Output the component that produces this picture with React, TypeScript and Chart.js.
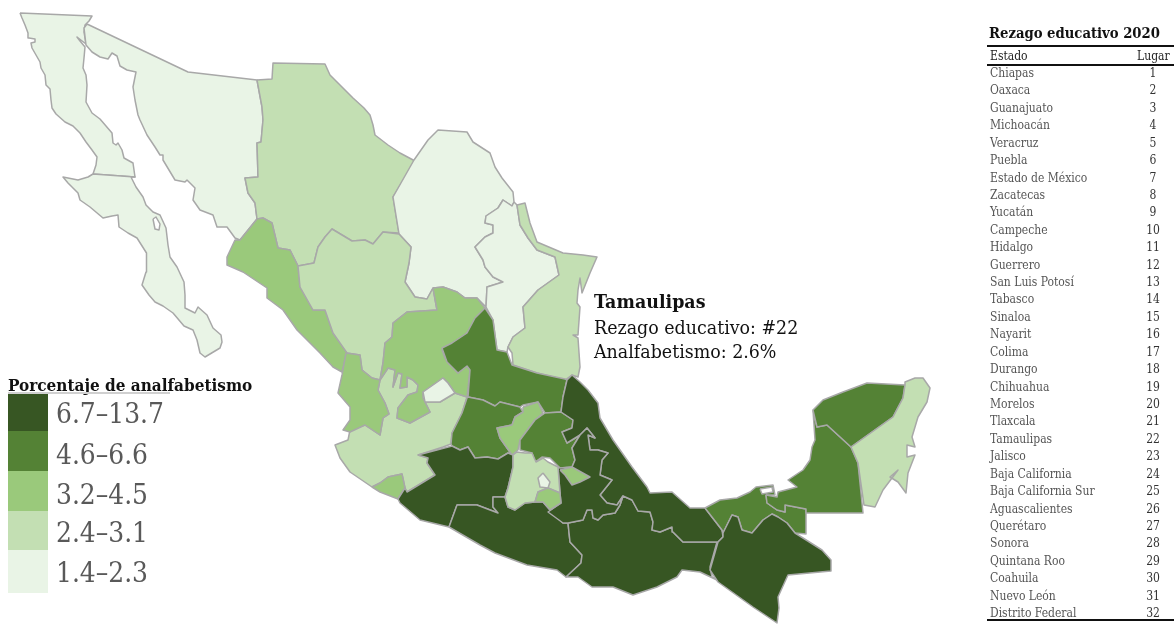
import React, { useEffect, useRef } from "react";
import { Chart, registerables } from "chart.js";

Chart.register(...registerables);

type Pt = [number, number];

// State outlines, in map units
const bajaCalifornia: Pt[] = [[20,13],[92,16],[89,21],[85,25],[84,32],[86,44],[77,37],[80,41],[85,47],[84,58],[83,68],[86,75],[87,85],[86,102],[92,113],[100,119],[112,133],[113,143],[116,145],[118,143],[122,150],[124,158],[133,163],[134,170],[135,177],[93,174],[96,165],[97,157],[92,150],[86,142],[80,133],[73,126],[65,122],[56,114],[52,108],[51,100],[50,89],[46,85],[45,75],[41,68],[40,62],[36,55],[32,48],[31,43],[35,42],[35,39],[29,38],[28,33],[25,25],[22,18]];
const bajaCaliforniaSur: Pt[] = [[93,174],[135,177],[131,177],[136,187],[143,197],[146,205],[153,212],[160,215],[166,228],[168,245],[170,257],[177,267],[184,282],[185,295],[185,308],[195,313],[198,307],[207,315],[213,328],[221,335],[222,342],[220,348],[205,357],[200,353],[197,340],[193,330],[184,326],[173,313],[163,306],[155,302],[149,295],[142,285],[146,272],[147,262],[146,253],[137,238],[128,233],[119,227],[118,215],[112,216],[103,218],[90,207],[80,200],[78,193],[68,183],[63,177],[78,180],[88,177]];
const bcsLagoon: Pt[] = [[153,219],[156,217],[160,224],[159,230],[155,229]];
const sonora: Pt[] = [[87,24],[188,72],[257,80],[262,107],[263,120],[261,142],[257,143],[258,177],[245,178],[248,193],[255,203],[257,219],[240,240],[235,238],[227,227],[217,227],[213,215],[200,210],[193,200],[195,188],[187,180],[185,182],[175,180],[163,160],[163,155],[160,155],[155,147],[147,135],[140,120],[138,115],[135,100],[133,87],[136,72],[127,70],[120,66],[117,56],[112,53],[108,59],[100,57],[92,52],[86,45],[84,28]];
const chihuahua: Pt[] = [[257,80],[272,79],[273,63],[325,64],[330,75],[340,85],[353,98],[364,108],[370,115],[373,125],[375,135],[388,145],[400,153],[415,161],[393,197],[399,233],[383,232],[373,244],[365,240],[352,241],[332,229],[325,237],[318,247],[314,263],[298,266],[290,250],[278,248],[272,223],[263,218],[257,219],[255,203],[248,193],[245,178],[258,177],[257,143],[261,142],[263,120],[262,107]];
const sinaloa: Pt[] = [[257,219],[263,218],[272,223],[278,248],[290,250],[298,266],[300,287],[313,310],[325,310],[333,333],[347,352],[342,372],[333,367],[320,353],[297,330],[283,310],[267,298],[267,288],[243,272],[227,265],[227,257],[235,240],[240,240]];
const coahuila: Pt[] = [[414,160],[428,140],[438,130],[467,132],[473,142],[490,153],[495,167],[502,178],[513,192],[514,202],[512,206],[503,200],[498,208],[486,216],[485,223],[493,225],[493,233],[485,237],[475,247],[483,260],[485,267],[493,277],[503,282],[487,287],[486,307],[477,298],[465,298],[457,292],[443,287],[433,288],[427,299],[415,297],[405,282],[409,263],[411,247],[399,234],[393,197]];
const nuevoLeon: Pt[] = [[514,202],[512,206],[503,200],[498,208],[486,216],[485,223],[493,225],[493,233],[485,237],[475,247],[483,260],[485,267],[493,277],[503,282],[487,287],[486,307],[493,320],[497,350],[507,352],[508,347],[513,337],[525,328],[523,307],[538,290],[559,275],[555,257],[537,250],[528,238],[520,225],[517,205]];
const tamaulipas: Pt[] = [[517,205],[525,203],[530,223],[537,242],[563,253],[583,255],[597,257],[590,273],[582,293],[580,278],[578,290],[577,303],[580,307],[578,335],[573,335],[578,338],[580,367],[578,377],[572,375],[565,380],[537,373],[513,365],[512,353],[508,347],[513,337],[525,328],[523,307],[538,290],[559,275],[555,257],[537,250],[528,238],[520,225]];
const durango: Pt[] = [[298,266],[314,263],[318,247],[325,237],[332,229],[352,241],[365,240],[373,244],[383,232],[399,234],[411,247],[409,263],[405,282],[415,297],[427,299],[433,288],[437,310],[407,312],[393,323],[392,337],[385,343],[383,363],[380,380],[372,378],[362,370],[360,355],[347,353],[333,333],[325,310],[313,310],[300,287]];
const zacatecas: Pt[] = [[433,288],[437,310],[407,312],[393,323],[392,337],[385,343],[383,363],[380,380],[388,368],[395,370],[393,387],[398,373],[402,374],[400,388],[407,387],[407,377],[413,380],[418,385],[417,392],[408,395],[398,408],[397,418],[410,423],[430,412],[423,398],[423,392],[443,378],[448,383],[455,393],[467,397],[470,370],[467,366],[458,373],[445,358],[442,350],[457,342],[470,330],[478,318],[485,308],[477,298],[465,298],[457,292],[443,287]];
const sanLuisPotosi: Pt[] = [[485,308],[493,320],[497,350],[507,352],[512,365],[537,373],[565,379],[567,380],[563,397],[561,412],[545,413],[538,402],[523,405],[520,407],[500,402],[495,406],[483,400],[468,397],[470,370],[467,366],[458,373],[447,362],[442,348],[452,343],[467,333],[475,318]];
const nayarit: Pt[] = [[346,353],[360,355],[362,370],[372,378],[380,380],[378,390],[385,403],[389,414],[383,418],[380,435],[365,425],[350,432],[343,430],[350,420],[350,407],[338,393],[342,375]];
const aguascalientes: Pt[] = [[443,378],[423,392],[425,402],[440,402],[455,393],[448,383]];
const jalisco: Pt[] = [[380,380],[388,368],[395,370],[393,387],[398,373],[402,374],[400,388],[407,387],[407,377],[413,380],[418,385],[417,392],[408,395],[398,408],[397,418],[410,423],[430,412],[423,398],[425,402],[440,402],[455,393],[467,397],[462,413],[452,433],[451,444],[443,447],[418,455],[428,458],[427,463],[435,475],[407,492],[405,488],[402,474],[388,477],[380,483],[372,487],[350,472],[340,458],[335,445],[348,440],[350,430],[365,425],[380,435],[383,418],[389,414],[385,403],[378,390]];
const colima: Pt[] = [[372,487],[380,483],[388,477],[402,474],[405,488],[398,499],[380,492]];
const guanajuato: Pt[] = [[468,397],[483,400],[495,406],[500,402],[520,407],[523,412],[515,417],[512,425],[497,428],[500,438],[512,455],[508,453],[498,459],[487,457],[475,458],[468,447],[460,450],[452,446],[451,444],[452,433],[462,413],[467,398]];
const queretaro: Pt[] = [[523,407],[538,402],[543,413],[535,420],[520,440],[518,450],[512,455],[500,438],[497,428],[512,425],[515,417],[523,412]];
const hidalgo: Pt[] = [[545,413],[561,412],[573,420],[572,428],[562,432],[567,443],[577,437],[580,435],[572,448],[575,460],[572,467],[560,468],[550,458],[542,457],[535,462],[532,453],[520,450],[520,440],[535,420]];
const michoacan: Pt[] = [[418,455],[452,446],[460,450],[468,447],[475,458],[487,457],[498,459],[508,453],[513,455],[513,467],[508,488],[505,497],[493,497],[493,507],[498,513],[477,505],[457,505],[449,527],[420,520],[400,503],[398,499],[405,488],[407,492],[435,475],[427,463],[428,458]];
const estadoDeMexico: Pt[] = [[513,455],[517,452],[525,453],[532,453],[536,462],[543,458],[548,462],[558,467],[560,493],[548,488],[538,492],[535,502],[525,503],[515,510],[508,507],[505,497],[508,488],[513,467]];
const distritoFederal: Pt[] = [[543,473],[550,482],[548,488],[540,487],[538,478]];
const morelos: Pt[] = [[535,502],[538,492],[548,488],[560,493],[561,503],[550,510],[543,502]];
const tlaxcala: Pt[] = [[560,470],[572,467],[590,477],[580,482],[572,485],[565,475]];
const puebla: Pt[] = [[560,468],[572,467],[575,460],[572,448],[580,435],[587,428],[595,438],[588,435],[590,450],[598,450],[608,453],[602,460],[600,475],[612,480],[600,495],[607,503],[617,505],[623,496],[620,505],[615,513],[603,515],[598,520],[593,518],[592,510],[587,510],[583,520],[573,522],[568,523],[563,523],[548,512],[561,503],[560,493],[558,467]];
const veracruz: Pt[] = [[567,380],[572,375],[580,382],[588,390],[598,403],[600,418],[613,440],[632,467],[647,487],[650,493],[672,492],[690,508],[705,508],[722,530],[723,537],[718,542],[683,542],[673,532],[672,527],[660,532],[652,530],[653,522],[650,512],[638,511],[632,500],[623,496],[617,505],[607,503],[600,495],[612,480],[600,475],[602,460],[608,453],[598,450],[590,450],[588,435],[595,438],[587,428],[580,435],[567,443],[562,432],[572,428],[573,420],[561,412],[563,397]];
const guerrero: Pt[] = [[449,527],[457,505],[477,505],[498,513],[493,507],[493,497],[505,497],[508,507],[515,510],[525,503],[535,502],[543,502],[550,510],[563,523],[568,523],[570,542],[582,555],[581,563],[566,577],[557,570],[527,565],[495,553],[480,545]];
const oaxaca: Pt[] = [[568,523],[573,522],[583,520],[587,510],[592,510],[593,518],[598,520],[603,515],[615,513],[620,505],[623,496],[632,500],[638,511],[650,512],[653,522],[652,530],[660,532],[672,527],[673,532],[683,542],[717,542],[710,567],[712,577],[717,580],[700,572],[682,570],[677,577],[657,587],[633,595],[613,587],[592,587],[578,577],[566,577],[581,563],[582,555],[570,542]];
const tabasco: Pt[] = [[705,508],[720,500],[737,498],[750,492],[756,487],[773,485],[775,495],[766,495],[767,503],[777,510],[785,512],[785,505],[806,509],[806,534],[795,533],[787,523],[778,517],[772,514],[763,520],[752,533],[742,530],[738,517],[732,515],[723,533],[722,530]];
const terminosLagoon: Pt[] = [[760,489],[772,487],[773,492],[762,494]];
const chiapas: Pt[] = [[718,542],[723,537],[723,533],[732,515],[738,517],[742,530],[752,533],[763,520],[772,514],[778,517],[787,523],[795,533],[803,538],[822,550],[831,560],[831,571],[788,575],[778,597],[779,608],[777,623],[753,607],[718,582],[710,570]];
const campeche: Pt[] = [[766,495],[777,497],[778,492],[797,487],[788,480],[803,470],[810,460],[812,447],[815,440],[813,410],[817,427],[827,425],[851,447],[858,463],[863,513],[806,513],[806,509],[785,505],[785,512],[777,510],[767,503]];
const yucatan: Pt[] = [[813,410],[823,400],[843,392],[867,383],[905,385],[903,398],[893,417],[851,447],[827,425],[817,427]];
const quintanaRoo: Pt[] = [[905,385],[905,382],[915,378],[923,378],[930,388],[927,402],[918,417],[912,437],[915,447],[907,445],[907,457],[915,455],[908,473],[906,493],[898,482],[890,477],[898,470],[883,490],[875,507],[864,505],[858,463],[851,447],[893,417],[903,398]];

const binLabels = ["6.7–13.7", "4.6–6.6", "3.2–4.5", "2.4–3.1", "1.4–2.3"];
const binColors = ["#375623", "#548235", "#9AC97B", "#C3DFB3", "#E9F4E6"];
const waterColor = "#FFFFFF";

// [outline, fill]; later entries are drawn over earlier ones
const mapStates: [Pt[], string][] = [
  [bajaCalifornia, binColors[4]], [bajaCaliforniaSur, binColors[4]], [bcsLagoon, waterColor], [sonora, binColors[4]],
  [chihuahua, binColors[3]], [sinaloa, binColors[2]], [coahuila, binColors[4]], [nuevoLeon, binColors[4]],
  [tamaulipas, binColors[3]], [durango, binColors[3]], [jalisco, binColors[3]], [zacatecas, binColors[2]],
  [sanLuisPotosi, binColors[1]], [nayarit, binColors[2]], [aguascalientes, binColors[4]], [colima, binColors[2]],
  [guanajuato, binColors[1]], [queretaro, binColors[2]], [hidalgo, binColors[1]], [michoacan, binColors[0]],
  [guerrero, binColors[0]], [oaxaca, binColors[0]], [veracruz, binColors[0]], [puebla, binColors[0]],
  [estadoDeMexico, binColors[3]], [morelos, binColors[2]], [distritoFederal, binColors[4]], [tlaxcala, binColors[2]],
  [tabasco, binColors[1]], [terminosLagoon, waterColor], [chiapas, binColors[0]], [campeche, binColors[1]],
  [yucatan, binColors[1]], [quintanaRoo, binColors[3]],
];

const rankedStates = ["Chiapas","Oaxaca","Guanajuato","Michoacán","Veracruz","Puebla","Estado de México","Zacatecas","Yucatán","Campeche","Hidalgo","Guerrero","San Luis Potosí","Tabasco","Sinaloa","Nayarit","Colima","Durango","Chihuahua","Morelos","Tlaxcala","Tamaulipas","Jalisco","Baja California","Baja California Sur","Aguascalientes","Querétaro","Sonora","Quintana Roo","Coahuila","Nuevo León","Distrito Federal"];

const serif = "'DejaVu Serif Condensed', 'DejaVu Serif', serif";

const polygonFill = {
  id: "polygonFill",
  beforeDatasetDraw(chart: any, args: any) {
    const pts = chart.getDatasetMeta(args.index).data;
    const ctx = chart.ctx;
    ctx.save();
    ctx.beginPath();
    pts.forEach((p: any, i: number) => (i ? ctx.lineTo(p.x, p.y) : ctx.moveTo(p.x, p.y)));
    ctx.closePath();
    ctx.fillStyle = chart.data.datasets[args.index].backgroundColor;
    ctx.fill();
    ctx.restore();
  },
};

export default function App() {
  const ref = useRef<HTMLCanvasElement>(null);
  useEffect(() => {
    const chart = new Chart(ref.current!, {
      type: "scatter",
      data: {
        datasets: mapStates.map(([outline, fillColor], i) => ({
          data: [...outline, outline[0]].map(([x, y]) => ({ x, y })),
          backgroundColor: fillColor,
          borderColor: "#A8A8A8",
          borderWidth: 1.5,
          borderJoinStyle: "round",
          showLine: true,
          pointRadius: 0,
          fill: false,
          order: mapStates.length - i,
        })),
      },
      options: {
        animation: false,
        responsive: false,
        layout: { padding: 0 },
        plugins: { legend: { display: false }, tooltip: { enabled: false } },
        scales: {
          x: { type: "linear", display: false, min: 0, max: 1174 },
          y: { type: "linear", display: false, min: 0, max: 624, reverse: true },
        },
      },
      plugins: [polygonFill],
    } as any);
    return () => chart.destroy();
  }, []);

  const abs = (left: number, top: number, extra: React.CSSProperties = {}): React.CSSProperties => ({
    position: "absolute", left, top, fontFamily: serif, whiteSpace: "nowrap", ...extra,
  });
  const swatchTops = [394, 431, 471, 511, 550];
  const swatchBottoms = [431, 471, 511, 550, 593];
  const labelCenters = [414, 455, 495, 533, 573];
  const rowTop = (i: number) => 65 + i * 17.42;

  return (
    <div style={{ position: "absolute", left: 0, top: 0, width: 1174, height: 624, overflow: "hidden", background: "#fff" }}>
      <canvas ref={ref} width={1174} height={624} style={{ position: "absolute", left: 0, top: 0 }} />

      <div style={abs(8, 376, { fontSize: 17, fontWeight: 700, lineHeight: "18px", color: "#111" })}>Porcentaje de analfabetismo</div>
      <div style={{ position: "absolute", left: 8, top: 392, width: 162, height: 2, background: "#D0D0D0" }} />
      {binLabels.map((label, i) => (
        <React.Fragment key={label}>
          <div style={{ position: "absolute", left: 8, top: swatchTops[i], width: 40, height: swatchBottoms[i] - swatchTops[i], background: binColors[i] }} />
          <div style={abs(56, labelCenters[i] - 18, { fontSize: 27.8, lineHeight: "36px", color: "#595959" })}>{label}</div>
        </React.Fragment>
      ))}

      <div style={abs(594, 290, { fontSize: 19.4, fontWeight: 700, lineHeight: "24px", color: "#111" })}>Tamaulipas</div>
      <div style={abs(594, 316, { fontSize: 19.4, lineHeight: "24px", color: "#111" })}>Rezago educativo: #22</div>
      <div style={abs(594, 340, { fontSize: 19.4, lineHeight: "24px", color: "#111" })}>Analfabetismo: 2.6%</div>

      <div style={abs(989, 25, { fontSize: 14.7, fontWeight: 700, lineHeight: "16px", color: "#111" })}>Rezago educativo 2020</div>
      <div style={{ position: "absolute", left: 987, top: 45, width: 187, height: 1.5, background: "#111" }} />
      <div style={abs(990, 49, { fontSize: 12, lineHeight: "15px", color: "#222" })}>Estado</div>
      <div style={abs(1137, 49, { fontSize: 12, lineHeight: "15px", color: "#222" })}>Lugar</div>
      <div style={{ position: "absolute", left: 987, top: 64, width: 187, height: 1.5, background: "#111" }} />
      {rankedStates.map((name, i) => (
        <React.Fragment key={name}>
          <div style={abs(990, rowTop(i), { fontSize: 12, lineHeight: "16px", color: "#555" })}>{name}</div>
          <div style={abs(1133, rowTop(i), { width: 40, textAlign: "center", fontSize: 12, lineHeight: "16px", color: "#333" })}>{i + 1}</div>
        </React.Fragment>
      ))}
      <div style={{ position: "absolute", left: 987, top: 619, width: 187, height: 1.5, background: "#111" }} />
    </div>
  );
}
